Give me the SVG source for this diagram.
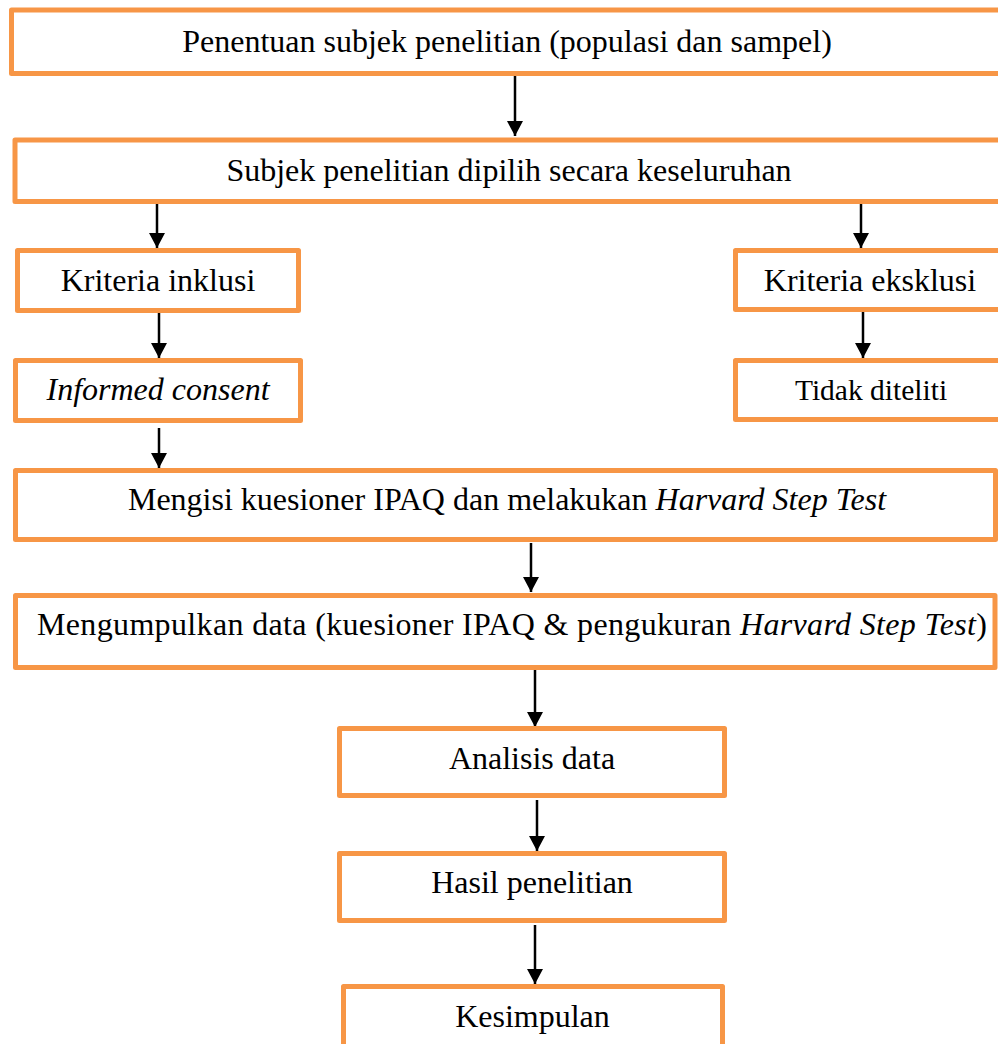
<svg xmlns="http://www.w3.org/2000/svg" width="998" height="1044" viewBox="0 0 998 1044">
<style>
.box{fill:#ffffff;stroke:#F79646;stroke-width:5;stroke-linejoin:round}
.t{font-family:"Liberation Serif","Times New Roman",serif;font-size:32px;fill:#000;text-anchor:middle}
.i{font-style:italic}
.c{stroke:#000;stroke-width:2.5;fill:none;marker-end:url(#ah)}
</style>
<defs>
<marker id="ah" viewBox="0 0 15 16" refX="15" refY="8" markerWidth="15" markerHeight="16" markerUnits="userSpaceOnUse" orient="auto">
<path d="M0,0 L15,8 L0,16 z" fill="#000"/>
</marker>
</defs>
<rect width="998" height="1044" fill="#fff"/>
<g id="connectors">
<line class="c" x1="515" y1="74" x2="515" y2="136"/>
<line class="c" x1="157" y1="203" x2="157" y2="248"/>
<line class="c" x1="861" y1="203" x2="861" y2="248"/>
<line class="c" x1="159" y1="312" x2="159" y2="358"/>
<line class="c" x1="863" y1="312" x2="863" y2="358"/>
<line class="c" x1="159" y1="428" x2="159" y2="468"/>
<line class="c" x1="531" y1="543" x2="531" y2="592"/>
<line class="c" x1="535" y1="670" x2="535" y2="727"/>
<line class="c" x1="537" y1="800" x2="537" y2="851"/>
<line class="c" x1="535" y1="925" x2="535" y2="984"/>
</g>
<g id="n1"><rect class="box" x="11.5" y="10" width="1000" height="63.5"/><text class="t" x="507" y="52">Penentuan subjek penelitian (populasi dan sampel)</text></g>
<g id="n2"><rect class="box" x="15" y="140" width="1000" height="61.5"/><text class="t" x="509" y="181">Subjek penelitian dipilih secara keseluruhan</text></g>
<g id="n3"><rect class="box" x="17.5" y="250.5" width="281" height="60"/><text class="t" x="158" y="291">Kriteria inklusi</text></g>
<g id="n4"><rect class="box" x="735.5" y="250.5" width="280" height="59"/><text class="t" x="870" y="291">Kriteria eksklusi</text></g>
<g id="n5"><rect class="box" x="15.5" y="360.5" width="285" height="60"/><text class="t i" x="158" y="400">Informed consent</text></g>
<g id="n6"><rect class="box" x="735.5" y="360.5" width="280" height="59"/><text class="t" x="871" y="400" style="font-size:29.5px">Tidak diteliti</text></g>
<g id="n7"><rect class="box" x="15.5" y="470.5" width="980" height="69"/><text class="t" x="507" y="510">Mengisi kuesioner IPAQ dan melakukan <tspan class="i">Harvard Step Test</tspan></text></g>
<g id="n8"><rect class="box" x="15.5" y="595.5" width="979.5" height="72"/><text class="t" x="512" y="635" textLength="950" lengthAdjust="spacing">Mengumpulkan data (kuesioner IPAQ &amp; pengukuran <tspan class="i">Harvard Step Test</tspan>)</text></g>
<g id="n9"><rect class="box" x="339.5" y="728.5" width="385" height="67"/><text class="t" x="532" y="769">Analisis data</text></g>
<g id="n10"><rect class="box" x="339.5" y="853.5" width="385" height="67"/><text class="t" x="532" y="893">Hasil penelitian</text></g>
<g id="n11"><rect class="box" x="343.5" y="986.5" width="379" height="80"/><text class="t" x="532.5" y="1027">Kesimpulan</text></g>
</svg>
